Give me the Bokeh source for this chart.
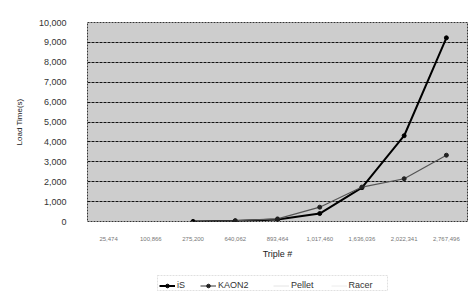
import math
from bokeh.plotting import figure
from bokeh.layouts import column
from bokeh.models import (NumeralTickFormatter, FixedTicker, Legend, LegendItem,
                          Range1d, BoxAnnotation)
from bokeh.embed import file_html
from bokeh.resources import INLINE

triples = ["25,474", "100,866", "275,200", "640,062", "893,464",
           "1,017,460", "1,636,036", "2,022,341", "2,767,496"]
nan = float("nan")
is_times = [nan, nan, 5, 30, 100, 400, 1700, 4310, 9230]
kaon2_times = [nan, nan, nan, 40, 130, 720, 1730, 2150, 3330]
pellet_times = [nan] * 9
racer_times = [nan] * 9
y_ticks = [0, 1000, 2000, 3000, 4000, 5000, 6000, 7000, 8000, 9000, 10000]
series_names = ["iS", "KAON2", "Pellet", "Racer"]

FONT = "Liberation Sans"

p = figure(x_range=triples, y_range=Range1d(0, 10000), width=470, height=261,
           output_backend="svg", toolbar_location=None,
           min_border_left=87, min_border_top=22, min_border_right=3, min_border_bottom=32)

p.background_fill_color = "#cdcdcd"
p.border_fill_color = "white"
p.outline_line_color = "#333333"
p.outline_line_dash = "2 1"

p.xgrid.grid_line_color = None
p.ygrid.grid_line_color = "#111111"
p.ygrid.grid_line_width = 1
p.ygrid.grid_line_dash = "3 1"

p.yaxis.ticker = FixedTicker(ticks=y_ticks)
p.yaxis.formatter = NumeralTickFormatter(format="0,0")
for ax in (p.xaxis, p.yaxis):
    ax.axis_line_color = None
    ax.major_tick_line_color = None
    ax.minor_tick_line_color = None
    ax.major_label_text_font = FONT
    ax.axis_label_text_font = FONT
    ax.axis_label_text_font_style = "normal"
    ax.axis_label_text_color = "#222222"
p.yaxis.major_label_text_font_size = "9px"
p.yaxis.major_label_text_color = "#333333"
p.yaxis.major_label_standoff = 15
p.yaxis.axis_label = "Load Time(s)"
p.yaxis.axis_label_text_font_size = "8px"
p.yaxis.axis_label_standoff = 12
p.xaxis.major_label_text_font_size = "6px"
p.xaxis.major_label_text_color = "#777777"
p.xaxis.major_label_standoff = 9
p.xaxis.axis_label = "Triple #"
p.xaxis.axis_label_text_font_size = "9px"
p.xaxis.axis_label_standoff = 5

styles = [dict(line_color="black", line_width=2),
          dict(line_color="#555555", line_width=1.2),
          dict(line_color="#e4e4e4", line_width=1),
          dict(line_color="#ececec", line_width=1)]
marker_colors = ["black", "#222222", None, None]
all_series = [is_times, kaon2_times, pellet_times, racer_times]

for vals, st, mc in zip(all_series, styles, marker_colors):
    p.line(triples, vals, **st)
    if mc:
        p.scatter(triples, vals, size=4, color=mc)

# legend strip: x in page pixels (87..467), y in pixels from the strip's top
q = figure(width=470, height=31, output_backend="svg", toolbar_location=None,
           x_range=Range1d(87, 467), y_range=Range1d(31, 0),
           min_border_left=87, min_border_right=3, min_border_top=0, min_border_bottom=0)
q.axis.visible = False
q.grid.visible = False
q.outline_line_color = None
q.background_fill_color = "white"
q.border_fill_color = "white"

idx = list(range(len(triples)))
items = []
for name, vals, st, mc in zip(series_names, all_series, styles, marker_colors):
    hidden = [nan] * len(vals)  # proxies for the legend swatches only
    rs = [q.line(idx, hidden, **st)]
    if mc:
        rs.append(q.scatter(idx, hidden, size=4, color=mc))
    items.append(LegendItem(label=name, renderers=rs))

common = dict(orientation="horizontal",
              label_text_font=FONT, label_text_font_size="9px", label_text_color="#333333",
              glyph_width=16, glyph_height=9, label_height=9, padding=3, margin=0,
              border_line_color=None, background_fill_alpha=0, label_standoff=2)
legend_a = Legend(items=items[:2], location=(72, 2), spacing=3, **common)
legend_b = Legend(items=items[2:], location=(186, 2), spacing=17, **common)
q.add_layout(BoxAnnotation(left=157, right=387, top=14, bottom=29,
                           fill_alpha=0, line_color="#999999", line_dash="2 1",
                           line_width=1))
q.add_layout(legend_a, "center")
q.add_layout(legend_b, "center")

layout = column(p, q, spacing=0)
open("out.html", "w").write(file_html(layout, INLINE))
